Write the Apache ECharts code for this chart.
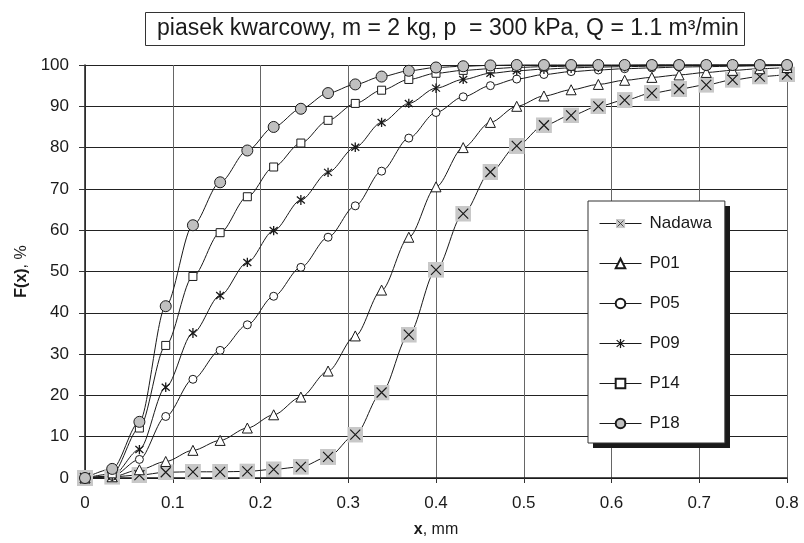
<!DOCTYPE html>
<html>
<head>
<meta charset="utf-8">
<script src="https://cdn.jsdelivr.net/npm/echarts@6/dist/echarts.min.js"></script>
<style>
html,body{margin:0;padding:0;background:#fff;}
#main{width:804px;height:543px;}
</style>
</head>
<body>
<div id="main"></div>
<script>
// x, mm
var xs = [0, 0.031, 0.062, 0.092, 0.123, 0.154, 0.185, 0.215, 0.246, 0.277, 0.308, 0.338, 0.369, 0.4,
  0.431, 0.462, 0.492, 0.523, 0.554, 0.585, 0.615, 0.646, 0.677, 0.708, 0.738, 0.769, 0.8];
// F(x), %
var nadawa = [0, 0.3, 0.7, 1.4, 1.5, 1.5, 1.6, 2.1, 2.7, 5.1, 10.5, 20.7, 34.7, 50.4,
  64.0, 74.1, 80.4, 85.4, 87.8, 90.0, 91.5, 93.2, 94.2, 95.2, 96.4, 97.2, 97.7];
var p01 = [0, 0.3, 2.0, 4.0, 6.7, 9.1, 12.1, 15.3, 19.6, 25.9, 34.4, 45.5, 58.3, 70.5,
  80.0, 86.1, 90.0, 92.5, 94.0, 95.3, 96.3, 97.0, 97.6, 98.2, 98.7, 99.1, 99.4];
var p05 = [0, 0.4, 4.5, 14.9, 23.9, 30.9, 37.1, 44.0, 51.0, 58.3, 65.9, 74.3, 82.3, 88.5,
  92.3, 95.0, 96.6, 97.7, 98.4, 98.8, 99.1, 99.3, 99.5, 99.6, 99.7, 99.8, 99.9];
var p09 = [0, 0.5, 6.9, 22.0, 35.1, 44.2, 52.2, 59.9, 67.3, 74.0, 80.1, 86.1, 90.7, 94.4,
  96.5, 98.0, 98.6, 99.0, 99.3, 99.5, 99.6, 99.7, 99.8, 99.9, 99.9, 100, 100];
var p14 = [0, 1.0, 12.1, 32.1, 48.8, 59.4, 68.1, 75.3, 81.1, 86.6, 90.7, 93.9, 96.5, 98.0,
  98.7, 99.1, 99.4, 99.6, 99.7, 99.8, 99.9, 100, 100, 100, 100, 100, 100];
var p18 = [0, 2.2, 13.6, 41.6, 61.2, 71.6, 79.3, 85.0, 89.4, 93.2, 95.3, 97.2, 98.6, 99.4,
  99.7, 99.9, 100, 100, 100, 100, 100, 100, 100, 100, 100, 100, 100];

function pairs(ys) {
  return ys.map(function (y, i) { return [xs[i], y]; });
}
function svgSym(svg) {
  return 'image://data:image/svg+xml;charset=utf-8,' + encodeURIComponent(svg);
}
var crossBox = svgSym('<svg xmlns="http://www.w3.org/2000/svg" width="16" height="16"><rect width="16" height="16" fill="#c8c8c8"/><path d="M3 3L13 13M13 3L3 13" stroke="#1a1a1a" stroke-width="1.2"/></svg>');
var star = svgSym('<svg xmlns="http://www.w3.org/2000/svg" width="10" height="10"><path d="M1 1.5L9 8.5M9 1.5L1 8.5M5 0L5 10" stroke="#1a1a1a" stroke-width="1.3" fill="none"/></svg>');

function line(name, ys, symbol, size, fill) {
  return {
    name: name,
    type: 'line',
    data: pairs(ys),
    symbol: symbol,
    symbolSize: size,
    showAllSymbol: true,
    smooth: 0.3,
    smoothMonotone: 'x',
    clip: false,
    lineStyle: { color: '#1a1a1a', width: 1 },
    itemStyle: { color: fill, borderColor: '#1a1a1a', borderWidth: 1 }
  };
}

var myChart = echarts.init(document.getElementById('main'));
var option = {
  backgroundColor: '#fff',
  animation: false,
  textStyle: { fontFamily: 'Liberation Sans, Arial, sans-serif' },
  title: {
    text: 'piasek kwarcowy, m = 2 kg, p  = 300 kPa, Q = 1.1 m³/min',
    left: 145,
    top: 12,
    padding: [5, 6, 5, 12],
    borderColor: '#333',
    borderWidth: 1,
    textStyle: { fontSize: 23, fontWeight: 'normal', color: '#1a1a1a', lineHeight: 24 }
  },
  grid: { left: 85, right: 17, top: 65, bottom: 64 },
  // legend drop shadow (dark block behind the legend box)
  graphic: [{
    type: 'rect',
    z: 5,
    shape: { x: 593, y: 206, width: 137, height: 242 },
    style: { fill: '#1a1a1a' }
  }],
  legend: {
    orient: 'vertical',
    z: 10,
    left: 588,
    top: 201,
    padding: [14, 13, 11, 11],
    itemWidth: 42,
    itemHeight: 12,
    itemGap: 23,
    backgroundColor: '#fff',
    borderColor: '#333',
    borderWidth: 1,
    lineStyle: { width: 1 },
    textStyle: { fontSize: 17, color: '#1a1a1a', lineHeight: 17, padding: [0, 0, 0, 3] },
    data: ['Nadawa', 'P01', 'P05', 'P09', 'P14', 'P18']
  },
  xAxis: {
    type: 'value',
    min: 0,
    max: 0.8,
    interval: 0.1,
    name: '{b|x}, mm',
    nameLocation: 'middle',
    nameGap: 44,
    nameTextStyle: { fontSize: 16, color: '#1a1a1a', rich: { b: { fontSize: 16, fontWeight: 'bold', color: '#1a1a1a' } } },
    axisLine: { lineStyle: { color: '#1a1a1a', width: 1.5 } },
    axisTick: { show: true, length: 5, lineStyle: { color: '#333' } },
    axisLabel: { fontSize: 17, color: '#1a1a1a', margin: 17 },
    splitLine: { show: true, lineStyle: { color: '#666', width: 1 } }
  },
  yAxis: {
    type: 'value',
    min: 0,
    max: 100,
    interval: 10,
    name: '{b|F(x)}, %',
    nameLocation: 'middle',
    nameGap: 55,
    nameRotate: 90,
    nameTextStyle: { fontSize: 16, color: '#1a1a1a', rich: { b: { fontSize: 16, fontWeight: 'bold', color: '#1a1a1a' } } },
    axisLine: { show: true, lineStyle: { color: '#1a1a1a', width: 1.5 } },
    axisTick: { show: true, length: 6, lineStyle: { color: '#333' } },
    axisLabel: { fontSize: 17, color: '#1a1a1a', margin: 16 },
    splitLine: { show: true, lineStyle: { color: '#222', width: 1 } }
  },
  series: [
    line('Nadawa', nadawa, crossBox, 16, '#c8c8c8'),
    line('P01', p01, 'triangle', 10, '#fff'),
    line('P05', p05, 'circle', 8, '#fff'),
    line('P09', p09, star, 10, '#1a1a1a'),
    line('P14', p14, 'rect', 8, '#fff'),
    line('P18', p18, 'circle', 11, '#c0c0c0')
  ]
};
myChart.setOption(option);
</script>
</body>
</html>
